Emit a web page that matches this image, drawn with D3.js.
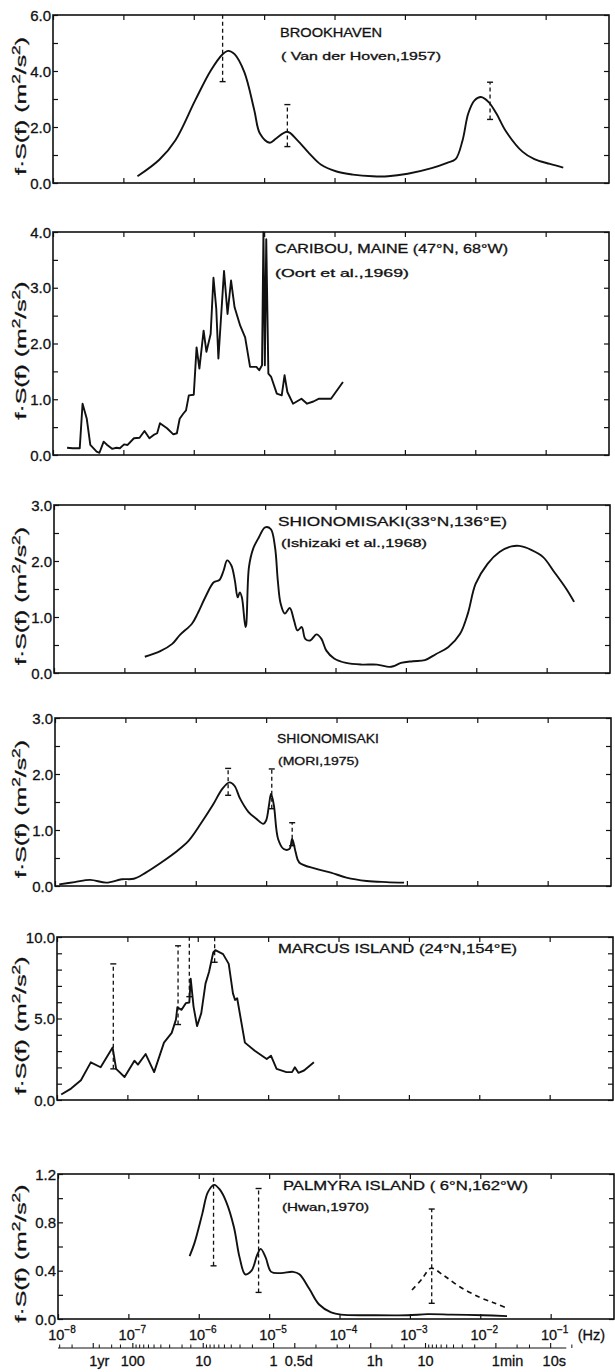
<!DOCTYPE html>
<html><head><meta charset="utf-8">
<script src="https://cdn.jsdelivr.net/npm/d3@7"></script>
<style>
body{margin:0;background:#fff}
svg{display:block}
text{font-family:"Liberation Sans",Arial,sans-serif;fill:#111;stroke:#111;stroke-width:0.3}
</style>
</head><body>
<svg id="c" width="615" height="1372"></svg>
<script>
// ---------------- DATA (log10 of frequency in Hz, f·S(f) in m²/s²) ----------------
const brookhavenLogF = [-6.80,-6.49,-6.26,-5.98,-5.76,-5.59,-5.51,-5.42,-5.28,-5.14,-5.06,-4.92,-4.83,-4.67,-4.53,-4.36,-4.19,-3.97,-3.74,-3.46,-3.24,-2.96,-2.62,-2.40,-2.28,-2.18,-2.10,-2.01,-1.92,-1.81,-1.70,-1.56,-1.33,-1.16,-0.94,-0.75];
const brookhavenFS   = [0.24,0.83,1.53,2.95,4.01,4.60,4.72,4.60,3.95,2.60,1.77,1.44,1.59,1.83,1.53,1.06,0.65,0.41,0.30,0.24,0.24,0.33,0.53,0.72,0.85,1.53,2.48,2.95,3.07,2.89,2.48,1.83,1.12,0.85,0.68,0.55];
const brookhavenBarLogF = [-5.59,-4.67,-1.79];
const brookhavenBarLo   = [3.62,1.30,2.27];
const brookhavenBarHi   = [6.00,2.80,3.60];

const caribouLogF = [-7.80,-7.72,-7.62,-7.58,-7.52,-7.47,-7.38,-7.34,-7.28,-7.23,-7.16,-7.10,-7.05,-6.99,-6.94,-6.85,-6.77,-6.70,-6.63,-6.57,-6.52,-6.48,-6.38,-6.29,-6.24,-6.20,-6.15,-6.11,-6.07,-6.00,-5.96,-5.92,-5.86,-5.82,-5.76,-5.72,-5.68,-5.65,-5.57,-5.52,-5.47,-5.42,-5.34,-5.27,-5.20,-5.11,-5.07,-5.03,-5.01,-4.99,-4.97,-4.94,-4.90,-4.82,-4.75,-4.71,-4.67,-4.59,-4.47,-4.39,-4.30,-4.22,-4.05,-3.88];
const caribouFS   = [0.13,0.12,0.12,0.92,0.65,0.18,0.06,0.04,0.24,0.18,0.11,0.13,0.12,0.19,0.18,0.30,0.31,0.43,0.30,0.36,0.39,0.57,0.48,0.37,0.39,0.65,0.74,0.80,1.07,1.08,1.93,1.55,2.23,1.85,2.17,3.18,2.62,1.73,3.30,2.53,3.13,2.65,2.32,2.11,1.58,1.58,1.52,1.61,3.99,1.61,3.87,1.46,1.40,1.10,1.07,1.43,1.13,0.92,1.01,0.92,0.96,1.01,1.01,1.31];

const ishizakiLogF = [-6.71,-6.49,-6.32,-6.21,-6.04,-5.96,-5.84,-5.73,-5.65,-5.59,-5.54,-5.48,-5.43,-5.39,-5.36,-5.33,-5.28,-5.27,-5.23,-5.17,-5.09,-5.00,-4.92,-4.86,-4.82,-4.78,-4.72,-4.65,-4.59,-4.54,-4.48,-4.43,-4.36,-4.27,-4.20,-4.13,-4.02,-3.85,-3.63,-3.41,-3.24,-3.18,-3.07,-2.90,-2.73,-2.57,-2.40,-2.23,-2.12,-2.01,-1.84,-1.67,-1.50,-1.39,-1.22,-1.05,-0.89,-0.72,-0.61];
const ishizakiFS   = [0.29,0.39,0.52,0.68,0.88,1.06,1.38,1.62,1.66,1.83,2.01,1.92,1.65,1.35,1.44,1.35,0.82,0.85,1.89,2.22,2.42,2.60,2.57,2.25,1.65,1.24,1.06,1.16,0.94,0.76,0.82,0.61,0.58,0.69,0.61,0.40,0.26,0.18,0.15,0.15,0.11,0.12,0.18,0.21,0.23,0.34,0.46,0.70,1.06,1.59,1.95,2.16,2.26,2.27,2.20,2.07,1.80,1.50,1.27];

const moriLogF = [-7.94,-7.72,-7.50,-7.27,-7.05,-6.88,-6.71,-6.49,-6.26,-6.10,-5.93,-5.76,-5.62,-5.52,-5.45,-5.37,-5.25,-5.14,-5.04,-5.00,-4.96,-4.93,-4.89,-4.83,-4.75,-4.67,-4.63,-4.58,-4.53,-4.30,-4.08,-3.86,-3.57,-3.29,-3.04];
const moriFS   = [0.03,0.07,0.11,0.06,0.12,0.13,0.24,0.42,0.63,0.81,1.11,1.44,1.74,1.85,1.79,1.56,1.32,1.20,1.11,1.17,1.44,1.65,1.44,0.84,0.66,0.66,0.84,0.60,0.42,0.31,0.24,0.15,0.09,0.07,0.06];
const moriBarLogF = [-5.54,-4.92,-4.63];
const moriBarLo   = [1.62,1.38,0.72];
const moriBarHi   = [2.10,2.09,1.13];

const marcusLogF = [-7.94,-7.80,-7.66,-7.52,-7.38,-7.21,-7.16,-7.04,-6.90,-6.85,-6.74,-6.62,-6.48,-6.37,-6.31,-6.29,-6.23,-6.17,-6.12,-6.10,-6.06,-6.01,-5.95,-5.89,-5.84,-5.78,-5.75,-5.64,-5.56,-5.50,-5.47,-5.44,-5.33,-5.19,-5.02,-4.96,-4.88,-4.74,-4.66,-4.62,-4.57,-4.49,-4.35];
const marcusFS   = [0.34,0.70,1.21,2.31,2.01,3.22,1.91,1.41,2.41,2.17,2.82,1.71,3.52,4.12,4.93,5.69,5.53,5.94,5.98,7.44,5.73,4.53,5.33,7.14,7.85,9.05,9.19,8.95,8.35,6.54,6.14,6.24,3.52,3.02,2.52,2.72,1.91,1.71,1.71,2.01,1.67,1.81,2.31];
const marcusBarLogF = [-7.20,-6.28,-6.12,-5.76];
const marcusBarLo   = [1.91,4.63,6.34,8.45];
const marcusBarHi   = [8.35,9.46,10.0,10.0];

const palmyraLogF = [-6.13,-6.06,-5.95,-5.87,-5.78,-5.70,-5.61,-5.50,-5.42,-5.34,-5.25,-5.17,-5.12,-5.05,-4.97,-4.83,-4.66,-4.57,-4.43,-4.29,-4.12,-3.98,-3.53,-3.03,-2.75,-2.41,-1.96,-1.62];
const palmyraFS   = [0.52,0.63,0.87,1.05,1.11,1.07,0.97,0.76,0.51,0.37,0.40,0.53,0.58,0.51,0.39,0.38,0.39,0.37,0.25,0.12,0.055,0.036,0.031,0.031,0.040,0.036,0.031,0.024];
const palmyraDashLogF = [-2.97,-2.83,-2.70,-2.52,-2.30,-2.01,-1.79,-1.62];
const palmyraDashFS   = [0.24,0.33,0.42,0.36,0.27,0.18,0.13,0.09];
const palmyraBarLogF = [-5.79,-5.15,-2.69];
const palmyraBarLo   = [0.44,0.22,0.13];
const palmyraBarHi   = [1.20,1.08,0.91];

const decadeExps = [-8,-7,-6,-5,-4,-3,-2,-1];
const periodLabels = ["1yr","100","10","1","0.5d","1h","10","1min","10s"];
const periodLabelNum = ["1","100","10","1","0.5","1","10","1","10"];
const periodLabelSec = [31557600, 8640000, 864000, 86400, 43200, 3600, 600, 60, 10];
const periodMinorSec = [94672800,63115200,25920000,17280000,12960000,
  7776000,6912000,6048000,5184000,4320000,3456000,2592000,1728000,1296000,
  777600,691200,604800,518400,432000,345600,259200,172800,
  21600,10800,7200,1800,1200,
  540,480,420,360,300,240,180,120,30,20,5];

const titles    = ["BROOKHAVEN","CARIBOU, MAINE (47°N, 68°W)","SHIONOMISAKI(33°N,136°E)","SHIONOMISAKI","MARCUS ISLAND (24°N,154°E)","PALMYRA ISLAND ( 6°N,162°W)"];
const subtitles = ["( Van der Hoven,1957)","(Oort et al.,1969)","(Ishizaki et al.,1968)","(MORI,1975)","","(Hwan,1970)"];
const yLabelTicks = [[0,2,4,6],[0,1,2,3,4],[0,1,2,3],[0,1,2,3],[0,5,10],[0,0.4,0.8,1.2]];
const yMinorStep = [1,0.5,0.5,0.5,1,0.2];
const yMax = [6,4,3,3,10,1.2];

// ---------------- LAYOUT ----------------
const W = 556;
const layout = [
  {top:15,  bottom:183,  left:53, tx:280, ty:36.5,  tw:102, sx:281, sy:59.5,  sw:160, smooth:true},
  {top:232, bottom:455,  left:53, tx:275, ty:252.5, tw:233, sx:275, sy:276.5, sw:134, smooth:false},
  {top:505, bottom:673,  left:54, tx:278, ty:525.5, tw:229, sx:281, sy:546.5, sw:146, smooth:true},
  {top:718, bottom:886,  left:55, tx:277, ty:742.5, tw:102, sx:278, sy:764.5, sw:81,  smooth:true},
  {top:937, bottom:1100, left:57, tx:278, ty:952.5, tw:239, sx:0,   sy:0,     sw:0,   smooth:false},
  {top:1174,bottom:1319, left:58, tx:283, ty:1189.5,tw:245, sx:282, sy:1210.5,sw:87,  smooth:true}
];
const series = [
  {lf:brookhavenLogF, v:brookhavenFS, bars:[brookhavenBarLogF,brookhavenBarLo,brookhavenBarHi]},
  {lf:caribouLogF, v:caribouFS, bars:null},
  {lf:ishizakiLogF, v:ishizakiFS, bars:null},
  {lf:moriLogF, v:moriFS, bars:[moriBarLogF,moriBarLo,moriBarHi]},
  {lf:marcusLogF, v:marcusFS, bars:[marcusBarLogF,marcusBarLo,marcusBarHi]},
  {lf:palmyraLogF, v:palmyraFS, bars:[palmyraBarLogF,palmyraBarLo,palmyraBarHi], dash:[palmyraDashLogF,palmyraDashFS]}
];

const svg = d3.select("#c");
const INK = "#111";
const xMax = Math.pow(10,-0.1);
const decades = decadeExps.map(e => Math.pow(10,e));
let lastX = null;

layout.forEach((L,i) => {
  const x = d3.scaleLog().domain([1e-8, xMax]).range([L.left, L.left + W]);
  const y = d3.scaleLinear().domain([0, yMax[i]]).range([L.bottom, L.top]);
  lastX = x;
  const g = svg.append("g");
  const minor = d3.range(0, yMax[i] + 1e-9, yMinorStep[i]);

  const styleAxis = sel => { sel.select(".domain").remove(); sel.selectAll("line").attr("stroke",INK).attr("stroke-width",1.2); };
  g.append("g").attr("transform",`translate(${L.left},0)`)
    .call(d3.axisLeft(y).tickValues(minor).tickSize(-5).tickFormat("")).call(styleAxis);
  g.append("g").attr("transform",`translate(${L.left+W},0)`)
    .call(d3.axisRight(y).tickValues(minor).tickSize(-5).tickFormat("")).call(styleAxis);
  g.append("g").attr("transform",`translate(0,${L.bottom})`)
    .call(d3.axisBottom(x).tickValues(decades).tickSize(-5).tickFormat("")).call(styleAxis);
  g.append("g").attr("transform",`translate(0,${L.top})`)
    .call(d3.axisTop(x).tickValues(decades).tickSize(-5).tickFormat("")).call(styleAxis);
  const lab = g.append("g").attr("transform",`translate(${L.left},0)`)
    .call(d3.axisLeft(y).tickValues(yLabelTicks[i]).tickSize(0).tickPadding(2).tickFormat(d3.format(".1f")));
  lab.select(".domain").remove();
  lab.selectAll("text").attr("font-size",15).attr("fill",INK).attr("dy","0.34em")
    .style("font-family",'"Liberation Sans",Arial,sans-serif');

  g.append("rect").attr("x",L.left).attr("y",L.top).attr("width",W).attr("height",L.bottom-L.top)
    .attr("fill","none").attr("stroke",INK).attr("stroke-width",1.6);

  const yt = g.append("text").attr("transform",`translate(26,${(L.top+L.bottom)/2+7}) rotate(-90)`)
    .attr("text-anchor","middle").attr("font-size",14.5)
    .attr("textLength",138).attr("lengthAdjust","spacingAndGlyphs");
  yt.append("tspan").text("f·S(f)  (m");
  yt.append("tspan").attr("dy",-6).attr("font-size",10).text("2");
  yt.append("tspan").attr("dy",6).text("/s");
  yt.append("tspan").attr("dy",-6).attr("font-size",10).text("2");
  yt.append("tspan").attr("dy",6).text(")");

  g.append("text").attr("x",L.tx).attr("y",L.ty).attr("font-size",13)
    .attr("textLength",L.tw).attr("lengthAdjust","spacingAndGlyphs").text(titles[i]);
  if (subtitles[i]) g.append("text").attr("x",L.sx).attr("y",L.sy).attr("font-size",11)
    .attr("textLength",L.sw).attr("lengthAdjust","spacingAndGlyphs").text(subtitles[i]);

  const S = series[i];
  const pts = S.lf.map((lf,k) => [lf, S.v[k]]);
  const line = d3.line().x(d => x(Math.pow(10,d[0]))).y(d => y(d[1]))
    .curve(L.smooth ? d3.curveCatmullRom.alpha(0.5) : d3.curveLinear);
  g.append("path").datum(pts).attr("d",line).attr("fill","none").attr("stroke",INK)
    .attr("stroke-width",1.9).attr("stroke-linejoin","round");
  if (S.dash) {
    const dp = S.dash[0].map((lf,k)=>[lf,S.dash[1][k]]);
    g.append("path").datum(dp).attr("d",line).attr("fill","none").attr("stroke",INK)
      .attr("stroke-width",1.7).attr("stroke-dasharray","5,4");
  }
  if (S.bars) {
    S.bars[0].forEach((lf,k) => {
      const bx = x(Math.pow(10,lf));
      const y1 = y(S.bars[1][k]), y2 = y(S.bars[2][k]);
      g.append("line").attr("x1",bx).attr("x2",bx).attr("y1",y1).attr("y2",y2)
        .attr("stroke",INK).attr("stroke-width",1.3).attr("stroke-dasharray","4,3");
      [y1,y2].forEach(yy => {
        if (Math.abs(yy - L.top) < 1) return;
        g.append("line").attr("x1",bx-3).attr("x2",bx+3).attr("y1",yy).attr("y2",yy)
          .attr("stroke",INK).attr("stroke-width",1.4);
      });
    });
  }
});

// ---------------- bottom frequency labels ----------------
const B = layout[5].bottom;
const x6 = lastX;
decadeExps.forEach(e => {
  const t = svg.append("text").attr("x",x6(Math.pow(10,e))+4).attr("y",B+21).attr("text-anchor","middle").attr("font-size",14.5);
  t.append("tspan").text("10");
  t.append("tspan").attr("dy",-7).attr("font-size",10).text("−" + (-e));
});
svg.append("text").attr("x",x6(Math.pow(10,-1))+27).attr("y",B+21).attr("font-size",14.5).text("(Hz)");

// ---------------- period axis ----------------
const PY = 1348;
const pa = svg.append("g");
pa.append("line").attr("x1",x6(1e-8)).attr("x2",x6(1/6)).attr("y1",PY).attr("y2",PY).attr("stroke",INK).attr("stroke-width",1.2);
periodMinorSec.forEach(p => {
  const px = x6(1/p);
  pa.append("line").attr("x1",px).attr("x2",px).attr("y1",PY).attr("y2",PY-3.5).attr("stroke",INK).attr("stroke-width",1);
});
periodLabelSec.forEach((p,k) => {
  const px = x6(1/p);
  pa.append("line").attr("x1",px).attr("x2",px).attr("y1",PY).attr("y2",PY-5).attr("stroke",INK).attr("stroke-width",1.1);
  const tmp = pa.append("text").attr("font-size",14.5).text(periodLabelNum[k]);
  const nw = tmp.node().getComputedTextLength();
  tmp.remove();
  pa.append("text").attr("x",px - nw/2).attr("y",PY+18).attr("font-size",14.5).text(periodLabels[k]);
});
</script>
</body></html>
